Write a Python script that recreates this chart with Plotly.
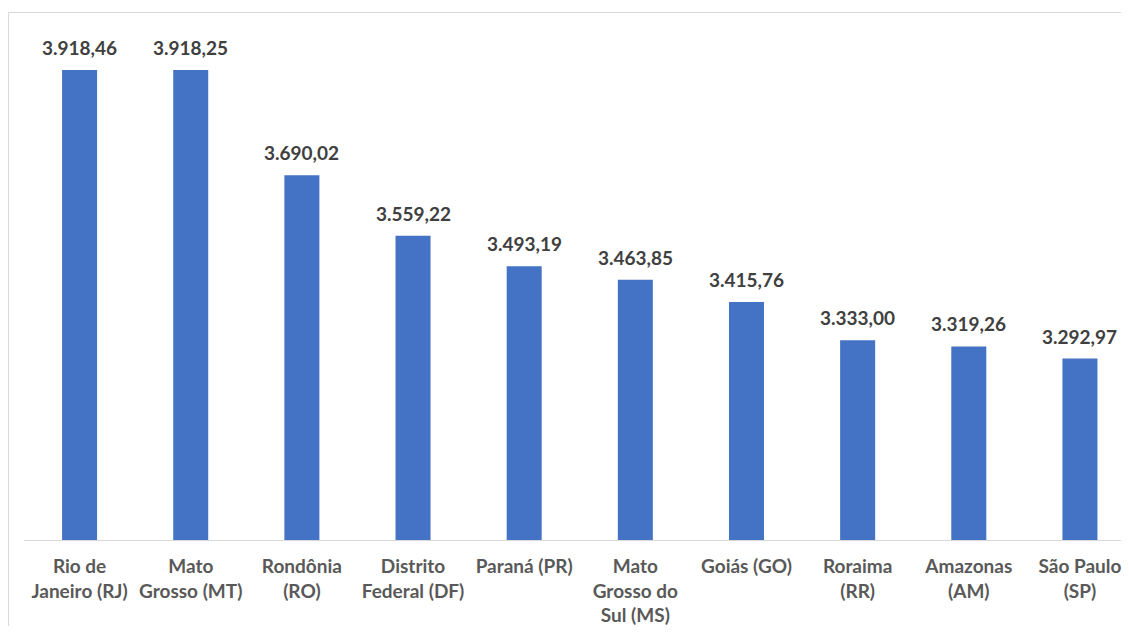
import plotly.graph_objects as go

categories = ["Rio de<br>Janeiro (RJ)", "Mato<br>Grosso (MT)", "Rondônia<br>(RO)", "Distrito<br>Federal (DF)",
              "Paraná (PR)", "Mato<br>Grosso do<br>Sul (MS)", "Goiás (GO)", "Roraima<br>(RR)",
              "Amazonas<br>(AM)", "São Paulo<br>(SP)"]
values = [3918.46, 3918.25, 3690.02, 3559.22, 3493.19, 3463.85, 3415.76, 3333.00, 3319.26, 3292.97]


def fmt_br(v):
    s = f"{v:,.2f}"
    return s.replace(",", "X").replace(".", ",").replace("X", ".")


labels = [fmt_br(v) for v in values]
FONT = "Lato, Noto Sans, sans-serif"

fig = go.Figure()
fig.add_trace(go.Bar(
    x=categories, y=values, marker=dict(color="#4472C4", line=dict(width=0)),
    width=0.315, hoverinfo="skip"))

for c, v, t in zip(categories, values, labels):
    fig.add_annotation(x=c, y=v, text=t, showarrow=False, yanchor="bottom", yshift=9,
                       font=dict(family=FONT, size=19, color="#404040", weight="bold"))

# page body has an 8px margin, so the figure starts at page (8, 8)
W, H = 1113, 618
ml, mt = 16, 12
base = 532.5
mb = H - base
pw = W - ml
ph = base - mt
fig.update_layout(
    width=W, height=H,
    margin=dict(l=ml, r=0, t=mt, b=mb),
    paper_bgcolor="white", plot_bgcolor="white",
    showlegend=False,
    xaxis=dict(range=[-0.5, 9.5 - 14.5 / 111], showgrid=False, showline=True, linecolor="#d9d9d9",
               linewidth=1, ticks="", ticklabelstandoff=9,
               tickfont=dict(family=FONT, size=19, color="#595959", weight="bold"),
               tickangle=0, automargin=False),
    yaxis=dict(range=[2900, 2900 + ph / 0.46204], visible=False, showgrid=False, zeroline=False),
    shapes=[dict(type="rect", xref="paper", yref="paper",
                 x0=(0.5 - ml) / pw, x1=(W + 5 - ml) / pw,
                 y0=-(H + 5 - base) / ph, y1=1 + (mt - 4.5) / ph,
                 line=dict(color="#d9d9d9", width=1), fillcolor="rgba(0,0,0,0)", layer="below")],
)

fig.write_html("out.html")
